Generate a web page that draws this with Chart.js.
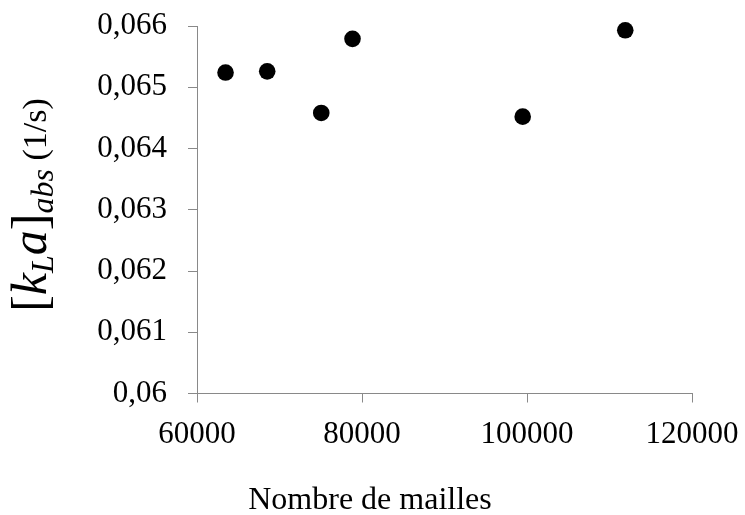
<!DOCTYPE html>
<html>
<head>
<meta charset="utf-8">
<script src="https://cdn.jsdelivr.net/npm/chart.js@4/dist/chart.umd.min.js"></script>
<style>
  html, body { margin: 0; padding: 0; background: #ffffff; }
  #wrap { width: 745px; height: 515px; }
</style>
</head>
<body>
<div id="wrap"><canvas id="c" width="745" height="515"></canvas></div>
<script>
// ---- Data ----
const meshCounts = [63460, 68510, 75060, 78850, 99480, 111910];
const kLaValues  = [0.06524, 0.06526, 0.06458, 0.06579, 0.06452, 0.06593];
const xTickLabels = ['60000', '80000', '100000', '120000'];
const yTickLabels = ['0,06', '0,061', '0,062', '0,063', '0,064', '0,065', '0,066'];
const xTitle = 'Nombre de mailles';

const AXIS_GREY = '#898989';
const SERIF = '"Liberation Serif", "Times New Roman", serif';

// axis titles drawn as rich text
const titlesPlugin = {
  id: 'richTitles',
  afterDraw(chart) {
    const ctx = chart.ctx;
    // x title
    ctx.save();
    ctx.fillStyle = '#000';
    ctx.font = `32px ${SERIF}`;
    ctx.textAlign = 'center';
    ctx.textBaseline = 'alphabetic';
    ctx.fillText(xTitle, 370, 509);
    ctx.restore();

    // y title: [k_L a]_abs (1/s)
    const big = 50, sub = 32, norm = 34;
    const parts = [
      { t: '[', f: `${big}px ${SERIF}`, dy: 0 },
      { t: 'k', f: `italic ${big}px ${SERIF}`, dy: 0 },
      { t: 'L', f: `italic ${sub}px ${SERIF}`, dy: 7 },
      { t: 'a', f: `italic ${big}px ${SERIF}`, dy: 0 },
      { t: ']', f: `${big}px ${SERIF}`, dy: 0 },
      { t: 'abs', f: `italic ${sub}px ${SERIF}`, dy: 7 },
      { t: ' (1/s)', f: `${norm}px ${SERIF}`, dy: 0 }
    ];
    ctx.save();
    let total = 0;
    parts.forEach(p => { ctx.font = p.f; p.w = ctx.measureText(p.t).width; total += p.w; });
    ctx.translate(46, 205);
    ctx.rotate(-Math.PI / 2);
    ctx.fillStyle = '#000';
    ctx.textBaseline = 'alphabetic';
    ctx.textAlign = 'left';
    let x = -total / 2;
    parts.forEach(p => {
      ctx.font = p.f;
      ctx.fillText(p.t, x, p.dy);
      x += p.w;
    });
    ctx.restore();
  }
};

new Chart(document.getElementById('c'), {
  type: 'scatter',
  data: {
    datasets: [{
      data: meshCounts.map((m, i) => ({ x: m, y: kLaValues[i] })),
      backgroundColor: '#000000',
      borderColor: '#000000',
      borderWidth: 0,
      pointRadius: 8.3,
      pointHoverRadius: 8.3,
      clip: false
    }]
  },
  options: {
    responsive: false,
    animation: false,
    events: [],
    layout: { padding: { left: 0, right: 53, top: 26, bottom: 0 } },
    plugins: {
      legend: { display: false },
      tooltip: { enabled: false },
      title: { display: false }
    },
    scales: {
      x: {
        type: 'linear',
        min: 60000, max: 120000,
        border: { display: true, color: AXIS_GREY, width: 1 },
        grid: { display: true, drawOnChartArea: false, drawTicks: true, tickLength: 9, color: AXIS_GREY },
        ticks: {
          stepSize: 20000,
          padding: 14,
          color: '#000',
          font: { family: SERIF, size: 31 },
          maxRotation: 0,
          callback: (v, i) => xTickLabels[i]
        },
        afterFit: (s) => { s.height = 121.5; s.paddingLeft = 0; s.paddingRight = 0; }
      },
      y: {
        type: 'linear',
        min: 0.06, max: 0.066,
        border: { display: true, color: AXIS_GREY, width: 1 },
        grid: { display: true, drawOnChartArea: false, drawTicks: true, tickLength: 9, color: AXIS_GREY },
        ticks: {
          stepSize: 0.001,
          padding: 21,
          color: '#000',
          font: { family: SERIF, size: 31 },
          callback: (v, i) => yTickLabels[i]
        },
        afterFit: (s) => { s.width = 197; s.paddingTop = 0; s.paddingBottom = 0; }
      }
    }
  },
  plugins: [titlesPlugin]
});
</script>
</body>
</html>
